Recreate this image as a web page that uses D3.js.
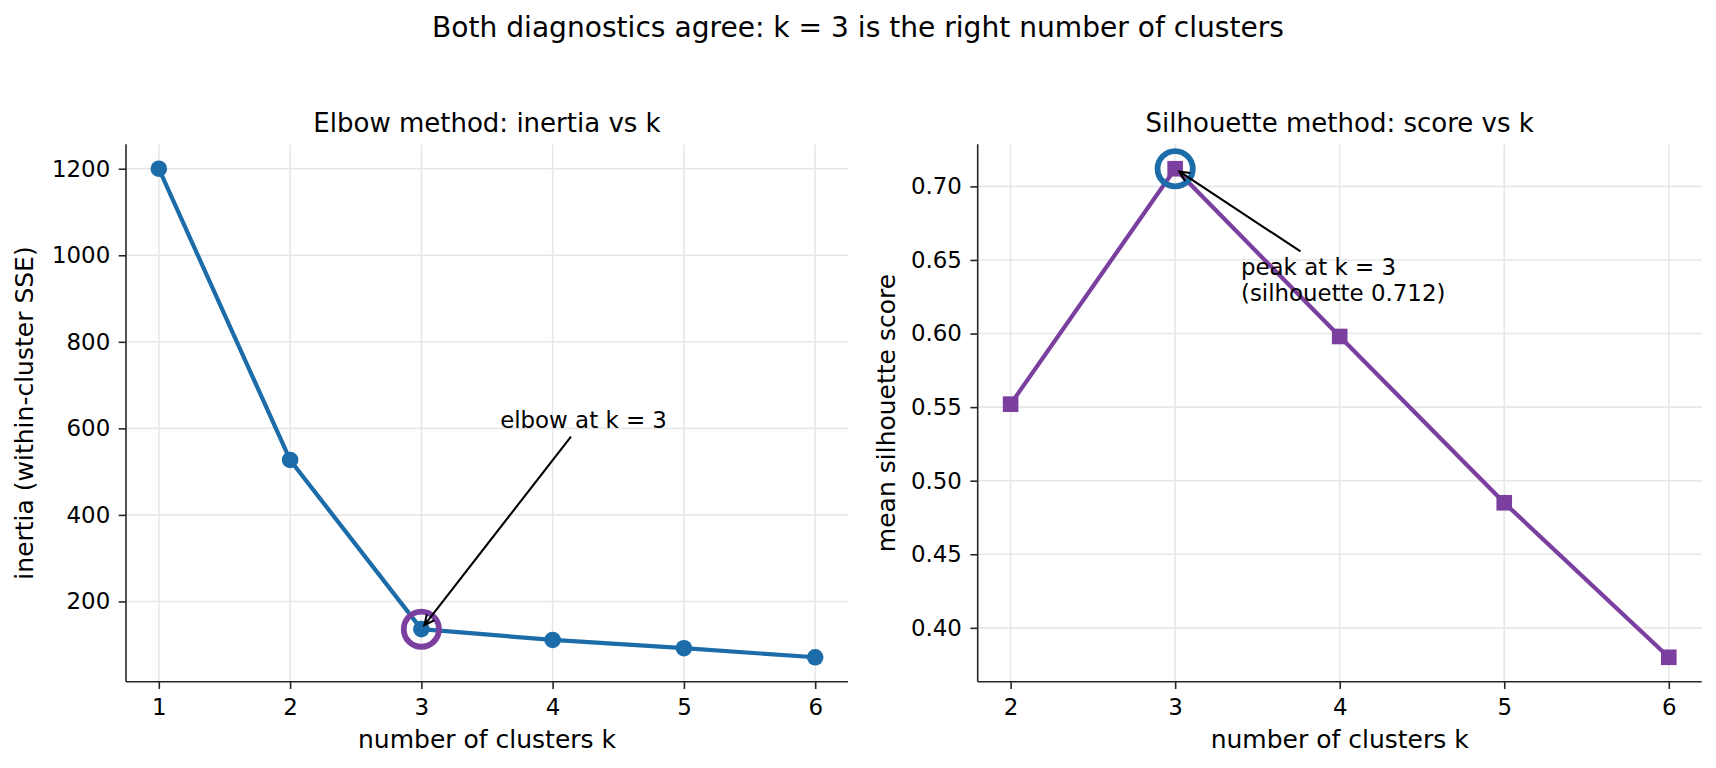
<!DOCTYPE html>
<html>
<head>
<meta charset="utf-8">
<script src="https://cdn.jsdelivr.net/npm/d3@7"></script>
<style>
  body { margin: 0; background: #fff; }
  text { font-family: "DejaVu Sans", sans-serif; fill: #000; }
</style>
</head>
<body>
<script>
// data
var kElbow = [1, 2, 3, 4, 5, 6];
var inertia = [1200, 527, 136, 111, 92, 71];
var kSil = [2, 3, 4, 5, 6];
var silhouette = [0.552, 0.712, 0.598, 0.485, 0.380];
var elbowYTicks = [200, 400, 600, 800, 1000, 1200];
var silYTicks = [0.40, 0.45, 0.50, 0.55, 0.60, 0.65, 0.70];
var bestK = 3;

var blue = "#1b6ca8";
var purple = "#7b3f9f";

var svg = d3.select("body").append("svg")
    .attr("width", 1716).attr("height", 768);

svg.append("text")
    .attr("x", 858).attr("y", 37)
    .attr("text-anchor", "middle")
    .style("font-size", "28.1px")
    .text("Both diagnostics agree: k = 3 is the right number of clusters");

// pad a domain like matplotlib's default 5% margins
function padded(vals) {
    var e = d3.extent(vals), p = (e[1] - e[0]) * 0.05;
    return [e[0] - p, e[1] + p];
}

function drawPanel(o) {
    var x = d3.scaleLinear().domain(padded(o.ks)).range([o.left, o.right]);
    var y = d3.scaleLinear().domain(padded(o.vals)).range([o.bottom, o.top]);
    var g = svg.append("g");

    // grid
    g.selectAll(".gx").data(o.ks).enter().append("line")
        .attr("x1", function(d) { return x(d); }).attr("x2", function(d) { return x(d); })
        .attr("y1", o.top).attr("y2", o.bottom)
        .attr("stroke", "#e7e7e7").attr("stroke-width", 1.6);
    g.selectAll(".gy").data(o.yTicks).enter().append("line")
        .attr("y1", function(d) { return y(d); }).attr("y2", function(d) { return y(d); })
        .attr("x1", o.left).attr("x2", o.right)
        .attr("stroke", "#e7e7e7").attr("stroke-width", 1.6);

    // axes
    var ax = g.append("g")
        .attr("transform", "translate(0," + o.bottom + ")")
        .call(d3.axisBottom(x).tickValues(o.ks).tickFormat(d3.format("d"))
            .tickSize(7.3).tickPadding(10).tickSizeOuter(0));
    var ay = g.append("g")
        .attr("transform", "translate(" + o.left + ",0)")
        .call(d3.axisLeft(y).tickValues(o.yTicks).tickFormat(o.fmt)
            .tickSize(7.3).tickPadding(8.5).tickSizeOuter(0));
    [ax, ay].forEach(function(a) {
        a.selectAll("path").attr("stroke", "#262626").attr("stroke-width", 1.6);
        a.selectAll("line").attr("stroke", "#262626").attr("stroke-width", 1.6);
        a.selectAll("text").style("font-size", "22.9px").style("font-family", "DejaVu Sans").attr("fill", "#000");
    });
    ax.select(".domain").attr("d", "M" + o.left + ",0H" + o.right);
    ay.select(".domain").attr("d", "M0," + o.top + "V" + o.bottom);

    // line and markers
    var pts = o.ks.map(function(k, i) { return [k, o.vals[i]]; });
    g.append("path").datum(pts)
        .attr("d", d3.line().x(function(d) { return x(d[0]); }).y(function(d) { return y(d[1]); }))
        .attr("fill", "none").attr("stroke", o.color).attr("stroke-width", 4.2)
        .attr("stroke-linejoin", "round");
    if (o.marker === "circle") {
        g.selectAll(".pt").data(pts).enter().append("circle")
            .attr("cx", function(d) { return x(d[0]); }).attr("cy", function(d) { return y(d[1]); })
            .attr("r", 8.3).attr("fill", o.color);
    } else {
        g.selectAll(".pt").data(pts).enter().append("rect")
            .attr("x", function(d) { return x(d[0]) - 7.8; }).attr("y", function(d) { return y(d[1]) - 7.8; })
            .attr("width", 15.6).attr("height", 15.6).attr("fill", o.color);
    }

    // highlight ring at the chosen k
    var bi = o.ks.indexOf(bestK);
    var tx = x(bestK), ty = y(o.vals[bi]);
    g.append("circle").attr("cx", tx).attr("cy", ty).attr("r", 17.6)
        .attr("fill", "none").attr("stroke", o.ringColor).attr("stroke-width", 5.8);

    // annotation text
    var t = g.append("text")
        .attr("x", x(o.noteX)).attr("y", y(o.noteY))
        .style("font-size", "22.9px");
    o.note.forEach(function(line, i) {
        t.append("tspan").attr("x", x(o.noteX)).attr("dy", i === 0 ? 0 : 26).text(line);
    });

    // arrow from the text box edge to the point
    var bb = t.node().getBBox();
    var cx = bb.x + bb.width / 2, cy = bb.y + bb.height / 2;
    var dx = tx - cx, dy = ty - cy, len = Math.sqrt(dx * dx + dy * dy);
    var ux = dx / len, uy = dy / len;
    var tEx = Math.abs((bb.width / 2) / dx);
    var tEy = Math.abs((bb.height / 2) / dy);
    var te = Math.min(tEx, tEy) * len + 4;
    var sx = cx + ux * te, sy = cy + uy * te;
    var ex = tx - ux * 5, ey = ty - uy * 5;
    var hl = 10, hw = 4.8;
    var bx = ex - ux * hl, by = ey - uy * hl;
    g.append("path")
        .attr("d", "M" + sx + "," + sy + "L" + ex + "," + ey +
            "M" + (bx - uy * hw) + "," + (by + ux * hw) + "L" + ex + "," + ey +
            "L" + (bx + uy * hw) + "," + (by - ux * hw))
        .attr("fill", "none").attr("stroke", "#000").attr("stroke-width", 2.1)
        .attr("stroke-linejoin", "miter");

    // titles and labels
    var mid = (o.left + o.right) / 2;
    g.append("text").attr("x", mid).attr("y", o.top - 12.5)
        .attr("text-anchor", "middle").style("font-size", "26px").text(o.title);
    g.append("text").attr("x", mid).attr("y", 748)
        .attr("text-anchor", "middle").style("font-size", "25px").text("number of clusters k");
    g.append("text")
        .attr("transform", "translate(" + o.yLabelX + "," + (o.top + o.bottom) / 2 + ") rotate(-90)")
        .attr("text-anchor", "middle").style("font-size", "25px").text(o.yLabel);
}

drawPanel({
    ks: kElbow, vals: inertia, yTicks: elbowYTicks, fmt: d3.format("d"),
    left: 126, right: 848, top: 144.3, bottom: 681.7,
    color: blue, ringColor: purple, marker: "circle",
    note: ["elbow at k = 3"], noteX: 3.6, noteY: 600,
    title: "Elbow method: inertia vs k",
    yLabel: "inertia (within-cluster SSE)", yLabelX: 33
});

drawPanel({
    ks: kSil, vals: silhouette, yTicks: silYTicks, fmt: d3.format(".2f"),
    left: 977.7, right: 1701.7, top: 144.3, bottom: 681.7,
    color: purple, ringColor: blue, marker: "square",
    note: ["peak at k = 3", "(silhouette 0.712)"], noteX: 3.4, noteY: 0.64,
    title: "Silhouette method: score vs k",
    yLabel: "mean silhouette score", yLabelX: 895
});
</script>
</body>
</html>
